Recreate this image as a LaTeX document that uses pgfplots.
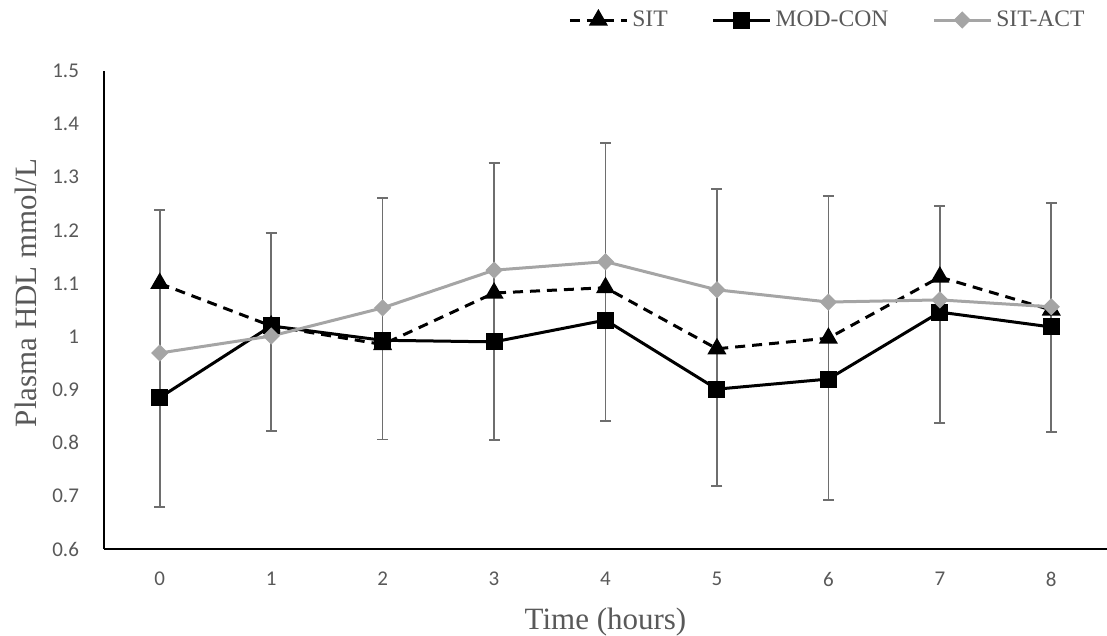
\documentclass[border=0pt]{standalone}
\usepackage{pgfplots}
\pgfplotsset{compat=1.18}
\usepackage{pgfplotstable}
\usepackage{fontspec}
\setmainfont{Liberation Serif}
\newfontfamily\calibri{Carlito}

\definecolor{txtgray}{HTML}{595959}
\definecolor{actgray}{HTML}{A5A5A5}
\definecolor{errgray}{HTML}{6E6E6E}

% time, SIT, MOD-CON, SIT-ACT
\pgfplotstableread{
t   sit    mod    act
0   1.100  0.885  0.969
1   1.020  1.020  1.001
2   0.985  0.993  1.054
3   1.082  0.990  1.125
4   1.092  1.031  1.141
5   0.977  0.901  1.088
6   0.997  0.920  1.065
7   1.112  1.046  1.069
8   1.050  1.018  1.056
}\hdl

% error bars as drawn: centre and half length
\pgfplotstableread{
t   mid     err
0   0.9585  0.2795
1   1.0085  0.1865
2   1.0335  0.2275
3   1.0660  0.2610
4   1.1030  0.2620
5   0.9985  0.2795
6   0.9785  0.2865
7   1.0415  0.2045
8   1.0360  0.2160
}\errs

\begin{document}
\begin{tikzpicture}
\begin{axis}[
  name=ax,
  scale only axis,
  width=501.5pt, height=239pt,
  xmin=-0.5, xmax=8.5,
  ymin=0.6, ymax=1.5,
  xtick={0,1,...,8},
  ytick={0.6,0.7,...,1.5},
  axis lines=left,
  axis line style={-, black, line width=0.8pt},
  major tick length=0pt,
  /pgf/number format/assume math mode=true,
  tick label style={font=\calibri\fontsize{10.5}{12}\selectfont, text=txtgray},
  yticklabel style={xshift=-9pt},
  xticklabel style={yshift=-8pt},
  xlabel={Time (hours)},
  ylabel={Plasma HDL mmol/L},
  every axis x label/.style={at={(axis description cs:0.5,0)}, anchor=center, yshift=-36.5pt,
    font=\fontsize{15.5}{18}\selectfont, text=txtgray},
  every axis y label/.style={at={(axis description cs:0,0.536)}, xshift=-39pt, rotate=90, anchor=center,
    font=\fontsize{15.5}{18}\selectfont, text=txtgray},
  legend columns=3,
  legend style={draw=none, fill=none, at={(axis description cs:1,1)}, anchor=east,
    yshift=25.5pt, xshift=-6pt,
    font=\fontsize{11.8}{14}\selectfont, text=txtgray,
    /tikz/every even column/.append style={column sep=20pt}},
  legend image code/.code={\draw[mark repeat=2, mark phase=2] plot coordinates {(0cm,0cm) (0.5cm,0cm) (1cm,0cm)};},
]
\addplot[draw=none, mark=none, forget plot,
  error bars/.cd, y dir=both, y explicit,
  error bar style={errgray, line width=0.8pt},
  error mark options={rotate=90, mark size=2.75pt, errgray, line width=0.8pt}]
  table[x=t, y=mid, y error=err] {\errs};

\addplot[black, line width=1.5pt, dash pattern=on 5pt off 3.5pt,
  mark=triangle*, mark size=4pt, mark options={solid}]
  table[x=t, y=sit] {\hdl};
\addlegendentry{SIT}

\addplot[black, line width=1.5pt,
  mark=square*, mark size=3.5pt, mark options={solid}]
  table[x=t, y=mod] {\hdl};
\addlegendentry{MOD-CON}

\addplot[actgray, line width=1.5pt,
  mark=square*, mark size=2.3pt, mark options={solid, rotate=45}]
  table[x=t, y=act] {\hdl};
\addlegendentry{SIT-ACT}
\end{axis}
\pgfresetboundingbox
\path (ax.south west) +(-52pt,-43.5pt) (ax.north east) +(0pt,35.5pt);
\end{tikzpicture}
\end{document}
